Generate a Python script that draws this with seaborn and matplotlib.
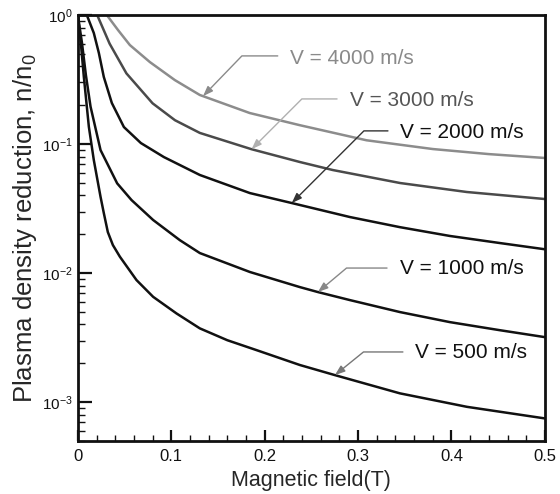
import numpy as np
import pandas as pd
import matplotlib
matplotlib.use("Agg")
import matplotlib.pyplot as plt
from matplotlib.ticker import LogLocator, FixedLocator, MultipleLocator, NullFormatter
import seaborn as sns

# ---- data ----
B_500 = [0, 0.0032, 0.0064, 0.0118, 0.0171, 0.0243, 0.0278, 0.0321, 0.0375, 0.045, 0.0628, 0.0806,
         0.1056, 0.1306, 0.16, 0.1913, 0.2377, 0.2752, 0.3448, 0.4165, 0.5]
n_500 = [1, 0.607, 0.333, 0.136, 0.0751, 0.039, 0.0292, 0.0208, 0.0165, 0.0134, 0.00883, 0.00655,
         0.00487, 0.00373, 0.00302, 0.00253, 0.00194, 0.00162, 0.00117, 0.00092, 0.000748]

B_1000 = [0, 0.0043, 0.0086, 0.0136, 0.0243, 0.0421, 0.0575, 0.0806, 0.1092, 0.1306, 0.1842,
          0.2377, 0.257, 0.2912, 0.3448, 0.3983, 0.4518, 0.5]
n_1000 = [1, 0.617, 0.343, 0.195, 0.0898, 0.0496, 0.0368, 0.0258, 0.018, 0.0143, 0.0102,
          0.00779, 0.00713, 0.00618, 0.00499, 0.00417, 0.00361, 0.00319]

B_2000 = [0, 0.0096, 0.0171, 0.0225, 0.0278, 0.0364, 0.0493, 0.0675, 0.0921, 0.1306, 0.1842,
          0.2291, 0.2912, 0.3448, 0.3983, 0.4518, 0.5]
n_2000 = [1, 1, 0.725, 0.508, 0.331, 0.208, 0.1355, 0.1018, 0.0793, 0.0576, 0.0417,
          0.0349, 0.0272, 0.0227, 0.0194, 0.0171, 0.0153]

B_3000 = [0, 0.0207, 0.034, 0.052, 0.08, 0.104, 0.1306, 0.186, 0.238, 0.273, 0.345, 0.4165, 0.5]
n_3000 = [1, 1, 0.60, 0.353, 0.207, 0.153, 0.122, 0.0912, 0.0725, 0.0629, 0.0499, 0.0425, 0.0375]

B_4000 = [0, 0.031, 0.043, 0.0557, 0.0771, 0.1039, 0.1306, 0.184, 0.2377, 0.309, 0.38, 0.44, 0.5]
n_4000 = [1, 1, 0.765, 0.585, 0.432, 0.313, 0.24, 0.174, 0.14, 0.107, 0.0915, 0.0836, 0.078]

labels = ["V = 500 m/s", "V = 1000 m/s", "V = 2000 m/s", "V = 3000 m/s", "V = 4000 m/s"]
x_ticks = [0, 0.1, 0.2, 0.3, 0.4, 0.5]
x_ticklabels = ["0", "0.1", "0.2", "0.3", "0.4", "0.5"]
y_ticks = [1e-3, 1e-2, 1e-1, 1e0]
y_ticklabels = ["10$^{-3}$", "10$^{-2}$", "10$^{-1}$", "10$^{0}$"]

series = {
    labels[0]: (B_500, n_500),
    labels[1]: (B_1000, n_1000),
    labels[2]: (B_2000, n_2000),
    labels[3]: (B_3000, n_3000),
    labels[4]: (B_4000, n_4000),
}
rows = []
for lab, (bb, nn) in series.items():
    for b, n in zip(bb, nn):
        rows.append({"B": b, "n": n, "V": lab})
df = pd.DataFrame(rows)

sns.set_style("ticks")
plt.rcParams["font.family"] = ["Liberation Sans", "DejaVu Sans"]
plt.rcParams["mathtext.fontset"] = "custom"
plt.rcParams["mathtext.rm"] = "Liberation Sans"
plt.rcParams["mathtext.it"] = "Liberation Sans:italic"

palette = {
    labels[0]: "#111111",
    labels[1]: "#111111",
    labels[2]: "#111111",
    labels[3]: "#4a4a4a",
    labels[4]: "#8c8c8c",
}

fig = plt.figure(figsize=(5.6, 4.94), dpi=100)
ax = fig.add_axes([0.139, 0.1073, 0.834, 0.8623])

sns.lineplot(data=df, x="B", y="n", hue="V", palette=palette, sort=False,
             estimator=None, units="V", linewidth=1.8, legend=False, ax=ax)
for line in ax.get_lines():
    line.set_solid_joinstyle("round")

ax.set_yscale("log")
ax.set_xlim(0, 0.5)
ax.set_ylim(5e-4, 1)

ax.xaxis.set_major_locator(FixedLocator(x_ticks))
ax.set_xticklabels(x_ticklabels)
ax.xaxis.set_minor_locator(MultipleLocator(0.02))
ax.yaxis.set_major_locator(FixedLocator(y_ticks))
ax.set_yticklabels(y_ticklabels)
ax.yaxis.set_minor_locator(LogLocator(base=10, subs=np.arange(2, 10)))
ax.yaxis.set_minor_formatter(NullFormatter())

ax.tick_params(which="both", direction="in", top=False, right=False, colors="#111111")
ax.tick_params(which="major", axis="y", length=10, width=1.6, labelsize=11, pad=4)
ax.tick_params(which="minor", axis="y", length=5, width=1.0)
ax.tick_params(which="major", axis="x", length=8, width=1.6, labelsize=12, pad=6)
ax.tick_params(which="minor", axis="x", length=4, width=1.0)
for s in ax.spines.values():
    s.set_linewidth(2.0)
    s.set_color("#111111")

ax.set_xlabel("Magnetic field(T)", fontsize=15.5, labelpad=4)
ax.set_ylabel("Plasma density reduction, n/n$_0$", fontsize=18.5, labelpad=2)

# ---- annotations: (label, text pos, leader start, tip, angleB, text color, leader color)
ann = [
    (labels[4], (0.454, 0.899), (0.428, 0.904), (0.134, 0.235), 46, "#8a8a8a", "#8a8a8a"),
    (labels[3], (0.582, 0.800), (0.555, 0.803), (0.186, 0.0912), 45, "#555555", "#b0b0b0"),
    (labels[2], (0.689, 0.725), (0.664, 0.728), (0.229, 0.0349), 45, "#111111", "#333333"),
    (labels[1], (0.689, 0.406), (0.662, 0.406), (0.257, 0.00713), 40, "#111111", "#888888"),
    (labels[0], (0.722, 0.207), (0.696, 0.209), (0.2752, 0.00162), 39, "#111111", "#777777"),
]
for lab, tpos, lpos, tip, angB, tcol, lcol in ann:
    ax.text(tpos[0], tpos[1], lab, transform=ax.transAxes, ha="left", va="center",
            fontsize=15, color=tcol)
    ax.annotate("", xy=tip, xycoords="data", xytext=lpos, textcoords="axes fraction",
                arrowprops=dict(arrowstyle="-|>,head_length=0.6,head_width=0.22",
                                connectionstyle=f"angle,angleA=0,angleB={angB},rad=0",
                                color=lcol, lw=1.0, shrinkA=0, shrinkB=0,
                                mutation_scale=10))

fig.savefig("out.png", dpi=100)
